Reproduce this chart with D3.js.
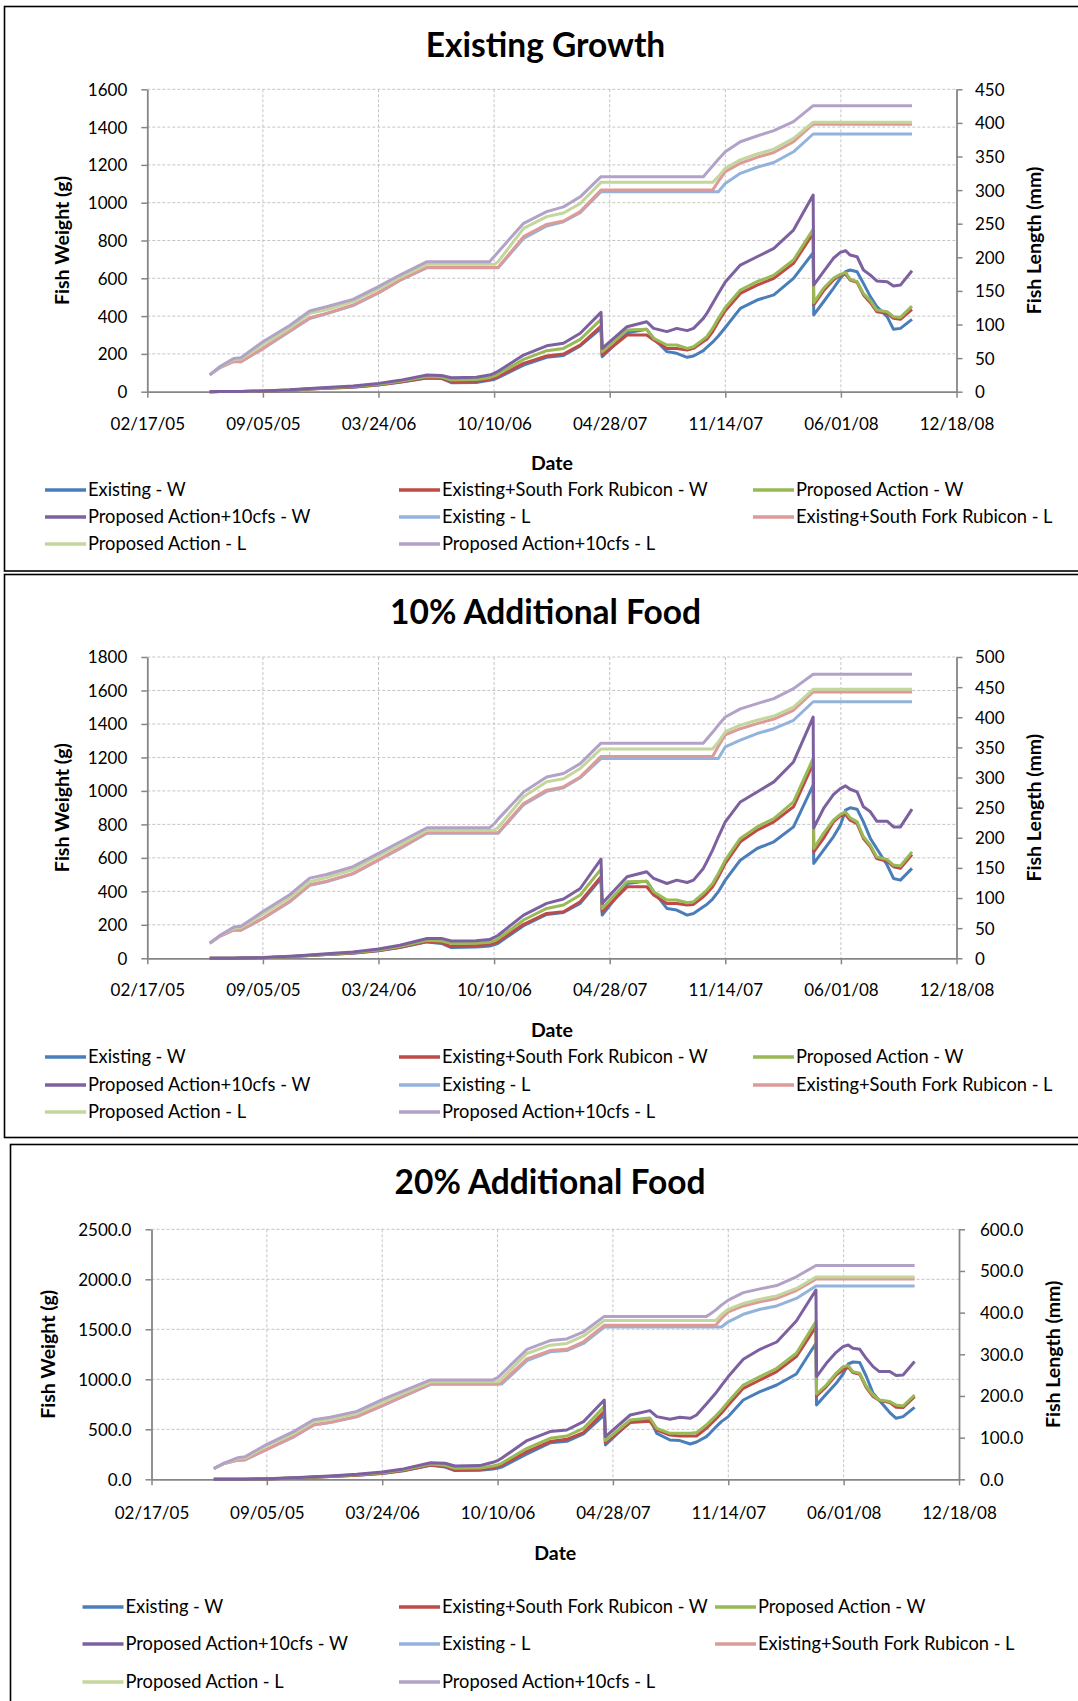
<!DOCTYPE html>
<html><head><meta charset="utf-8">
<script src="https://cdn.jsdelivr.net/npm/d3@7"></script>
<style>
body{margin:0;background:#fff;}
svg{display:block;}
text{font-family:Lato,"Open Sans",sans-serif;fill:#000;}
</style>
</head><body>
<svg id="chart" width="1078" height="1701"></svg>
<script>
// ---------------- DATA ----------------
const tickLabels = ["02/17/05","09/05/05","03/24/06","10/10/06","04/28/07","11/14/07","06/01/08","12/18/08"];
// days after 02/17/05 for every data point
const dayOffsets = [108,126,150,162,200,247,281,310,356,400,437,484,509,526,569,592,601,607,651,691,720,749,785,787,830,864,876,899,916,934,945,962,968,978,988,1000,1026,1055,1084,1118,1152,1153,1170,1187,1199,1208,1216,1228,1239,1251,1262,1280,1291,1303,1323];

const seriesNames = ["Existing - W","Existing+South Fork Rubicon - W","Proposed Action - W","Proposed Action+10cfs - W",
                     "Existing - L","Existing+South Fork Rubicon - L","Proposed Action - L","Proposed Action+10cfs - L"];
const seriesColors = ["#4a7ebb","#be4b48","#98b954","#7d60a0","#93b3dc","#dc9a98","#c3d69b","#b3a2c7"];
const panelTitles = ["Existing Growth","10% Additional Food","20% Additional Food"];

const weightTicks1 = [0,200,400,600,800,1000,1200,1400,1600];
const lengthTicks1 = [0,50,100,150,200,250,300,350,400,450];
const weightTicks2 = [0,200,400,600,800,1000,1200,1400,1600,1800];
const lengthTicks2 = [0,50,100,150,200,250,300,350,400,450,500];
const weightTicks3 = [0,500,1000,1500,2000,2500];
const lengthTicks3 = [0,100,200,300,400,500,600];

// ---- Existing Growth ----
const eg_existing_W = [0,0.5,1,1.5,3,8,14,18,24,36, 50,73,70,48,49,60,66,74,141,182, 192,242,335,185,312,330,282,212,203,182, 189,217,235,262,295,340,441,485,512,600, 735,406,476,547,600,635,644,635,573,503, 450,397,330,335,383];
const eg_sfr_W = [0,0.5,1,1.5,3,8,14,18,25,37, 51,74,71,53,55,65,72,80,150,189, 199,247,347,194,300,300,273,229,229,220, 229,265,277,317,370,428,520,564,600,679, 838,459,534,591,617,621,591,579,512,471, 423,415,388,383,436];
const eg_pa_W = [0,0.5,1,1.5,3.5,9,15,20,27,40, 55,80,78,62,64,74,84,92,171,217, 229,277,383,212,326,330,282,247,247,229, 238,277,291,335,388,445,538,582,617,697, 859,471,547,600,621,630,596,582,520,482, 432,423,397,393,453];
const eg_pa10_W = [0,0.5,1,1.5,4,10,17,22,30,44, 60,88,86,74,76,88,98,108,194,243, 256,309,420,229,344,370,335,318,335,323, 335,388,414,467,520,580,670,714,758,855, 1041,564,635,706,737,746,723,714,644,617, 586,582,559,564,640];
const eg_existing_L = [25,36,45,44.5,64,90,109,116,128,147, 165.5,184.5,184.5,184.5,184.5,184.5,184.5,184.5,228,246.6, 253,266.4,297.5,297.5,297.5,297.5,297.5,297.5,297.5,297.5, 297.5,297.5,297.5,297.5,297.5,310,325,334,341,357, 383.5,383.5,383.5,383.5,383.5,383.5,383.5,383.5,383.5,383.5, 383.5,383.5,383.5,383.5,383.5];
const eg_sfr_L = [25,36,45.6,44.7,64.5,91,110,116.6,129,147.4, 166,185,185,185,185,185,185,185,230.7,249, 254,268,300,300,300,300,300,300,300,300, 300,300,300,300,313,327.5,340,348.8,356,372, 398,398,398,398,398,398,398,398,398,398, 398,398,398,398,398];
const eg_pa_L = [25,37,48,48.5,70.4,95,116.6,122,134,152.8, 170,189.5,189.5,189.5,189.5,189.5,189.5,193.5,243,260.5, 266,280,311.5,311.5,311.5,311.5,311.5,311.5,311.5,311.5, 311.5,311.5,311.5,311.5,320,332.4,345,353.7,361,377, 401,401,401,401,401,401,401,401,401,401, 401,401,401,401,401];
const eg_pa10_L = [25,37.5,49.6,50.6,74.4,99,120,126.5,137.4,156.3, 173.6,193.5,193.5,193.5,193.5,193.5,202,208,250.5,268, 275,290,320,320,320,320,320,320,320,320, 320,320,326,336,346,357,372,380.5,388.5,402, 425.7,425.7,425.7,425.7,425.7,425.7,425.7,425.7,425.7,425.7, 425.7,425.7,425.7,425.7,425.7];

// ---- 10% Additional Food ----
const f10_existing_W = [0,0.5,1,1.5,3.5,10,16,22,30,45, 65,98,89,64,67,73,82,90,195,262, 274,328,477,258,447,461,398,298,288,258, 268,308,322,354,398,467,586,656,696,785, 1034,567,646,726,795,885,899,891,815,716, 656,557,477,467,537];
const f10_sfr_W = [0,0.5,1,1.5,3.5,10,16,22,31,46, 66,100,93,70,76,83,91,100,203,268, 278,338,487,278,427,427,378,328,328,318, 322,368,388,427,487,567,696,765,815,905, 1163,636,716,815,851,859,825,805,716,666, 596,580,547,537,620];
const f10_pa_W = [0,0.5,1,1.5,4,11,18,24,34,50, 71,108,103,89,90,96,106,116,229,298, 318,378,533,298,457,461,398,348,348,332, 338,388,408,447,507,586,716,785,835,934, 1193,656,746,825,859,875,839,815,726,676, 606,590,557,551,636];
const f10_pa10_W = [0,0.5,1,1.5,4.5,12,20,27,38,55, 78,118,119,103,105,112,126,138,258,328, 354,417,592,328,487,517,477,447,467,453, 467,537,577,646,726,815,934,994,1054,1173, 1441,779,895,978,1014,1030,1010,994,905,875, 819,819,785,785,891];
const f10_existing_L = [25,37,47,46.5,66,94,121,127,140,163, 182,207.5,207.5,207.5,207.5,207.5,207.5,207.5,255,277, 283,299.5,331.5,331.5,331.5,331.5,331.5,331.5,331.5,331.5, 331.5,331.5,331.5,331.5,331.5,351,362,373,381,395, 425.7,425.7,425.7,425.7,425.7,425.7,425.7,425.7,425.7,425.7, 425.7,425.7,425.7,425.7,425.7];
const f10_sfr_L = [25,37,47,47,66.5,95,122,128,141,163.3, 183,208.3,208.3,208.3,208.3,208.3,208.3,208.3,257,279, 284.5,301,335,335,335,335,335,335,335,335, 335,335,335,335,352,371,381,389.5,397,411.6, 442,442,442,442,442,442,442,442,442,442, 442,442,442,442,442];
const f10_pa_L = [25,38,50,51,73,101,127,134,147,170, 188,212.7,212.7,212.7,212.7,212.7,212.7,217,268,293, 298,315,347.5,347.5,347.5,347.5,347.5,347.5,347.5,347.5, 347.5,347.5,347.5,347.5,359,376,387,395,402,417, 446.5,446.5,446.5,446.5,446.5,446.5,446.5,446.5,446.5,446.5, 446.5,446.5,446.5,446.5,446.5];
const f10_pa10_L = [25,38,52,53,77.5,106,133,139,152,174, 193,216.6,216.6,216.6,216.6,216.6,224,231,276,301, 306.6,323,357,357,357,357,357,357,357,357, 357,357,364,375,387,400.5,414,422.6,431,447.5, 471.5,471.5,471.5,471.5,471.5,471.5,471.5,471.5,471.5,471.5, 471.5,471.5,471.5,471.5,471.5];

// ---- 20% Additional Food ----
const f20_existing_W = [0,0.5,1,1.5,4,12,20,28,40,59, 86,140,122,87,90,103,112,122,253,365, 380,455,643,343,577,607,460,393,387,353, 373,427,460,520,577,627,793,877,943,1053, 1360,743,853,960,1053,1153,1173,1167,1033,860, 787,667,610,627,720];
const f20_sfr_W = [0,0.5,1,1.5,4,12,21,28,41,60, 88,142,128,93,96,116,130,142,277,377, 400,467,677,367,567,580,493,443,433,433, 433,510,543,600,660,743,910,993,1077,1227, 1527,833,927,1043,1093,1120,1067,1050,920,827, 787,767,720,717,827];
const f20_pa_W = [0,0.5,1,1.5,4.5,14,23,31,45,66, 95,152,140,110,112,133,146,160,310,410, 433,510,727,387,593,613,510,460,460,460, 467,543,577,633,693,777,943,1027,1110,1260, 1577,853,943,1060,1127,1137,1077,1060,933,843, 793,777,743,733,843];
const f20_pa10_W = [0,0.5,1,1.5,5,15,25,34,50,72, 104,165,160,133,137,170,190,210,387,477, 493,577,793,427,643,687,627,600,620,610, 643,753,793,860,937,1027,1200,1300,1373,1583, 1893,1027,1160,1270,1327,1343,1310,1300,1210,1127, 1077,1077,1037,1043,1177];
const f20_existing_L = [25.5,38,46,46.5,71.5,102,130,136,150,176, 199,228,228,228,228,228,228,228.5,285,306, 309,326,365.5,365.5,365.5,365.5,365.5,365.5,365.5,365.5, 365.5,365.5,365.5,365.5,365.5,378,396,408,416,434, 464,464,464,464,464,464,464,464,464,464, 464,464,464,464,464];
const f20_sfr_L = [25.5,38,46,47,72,103,131,137,151,177, 200,229.5,229.5,229.5,229.5,229.5,229.5,232,289,309, 312,330,369.5,369.5,369.5,369.5,369.5,369.5,369.5,369.5, 369.5,369.5,369.5,369.5,386,402,416,426,434,453, 480.5,480.5,480.5,480.5,480.5,480.5,480.5,480.5,480.5,480.5, 480.5,480.5,480.5,480.5,480.5];
const f20_pa_L = [25.5,39,50,51,80,110,138,144,158,185, 207,234,234,234,234,234,234,242,302,322, 326,344,381,381,381,381,381,381,381,381, 381,381,381,381,395,408,422,432,440,458, 485.5,485.5,485.5,485.5,485.5,485.5,485.5,485.5,485.5,485.5, 485.5,485.5,485.5,485.5,485.5];
const f20_pa10_L = [25.5,39,52,54,84,115,143,149,163,191, 212,238.5,238.5,238.5,238.5,238.5,245,253,312,333, 337,354,391,391,391,391,391,391,391,391, 391,391,396,406,418,430,448,457,465,486, 513,513,513,513,513,513,513,513,513,513, 513,513,513,513,513];

// ---------------- LAYOUT (positions / styles only) ----------------
const layout = [
  {frame:[4.5,6.5,1090,564.5], x0:147.3, x1:956.5, y0:89.3, y1:391.7, titleX:545.5, titleY:45.5, xLabDy:32, dateY:463,
   yTitleX:62, y2TitleX:1034, lPad:20, rPad:18.5, legendRows:[490,517,544], legendCols:[45,399,753]},
  {frame:[4.5,574.5,1090,563], x0:147.3, x1:956.5, y0:657, y1:958.3, titleX:545.5, titleY:612.7, xLabDy:32, dateY:1030,
   yTitleX:62, y2TitleX:1034, lPad:20, rPad:18.5, legendRows:[1057,1085,1112], legendCols:[45,399,753]},
  {frame:[10.5,1144.5,1090,600], x0:151.5, x1:959, y0:1229.3, y1:1479.3, titleX:550, titleY:1182, xLabDy:34, dateY:1553,
   yTitleX:48.5, y2TitleX:1053.5, lPad:20, rPad:21, legendRows:[1607,1644,1682], legendCols:[82.5,399,715]}
];

const panels = [
  {title:panelTitles[0], wTicks:weightTicks1, lTicks:lengthTicks1, fmt:d3.format("d"),
   series:[eg_existing_W,eg_sfr_W,eg_pa_W,eg_pa10_W,eg_existing_L,eg_sfr_L,eg_pa_L,eg_pa10_L]},
  {title:panelTitles[1], wTicks:weightTicks2, lTicks:lengthTicks2, fmt:d3.format("d"),
   series:[f10_existing_W,f10_sfr_W,f10_pa_W,f10_pa10_W,f10_existing_L,f10_sfr_L,f10_pa_L,f10_pa10_L]},
  {title:panelTitles[2], wTicks:weightTicks3, lTicks:lengthTicks3, fmt:d3.format(".1f"),
   series:[f20_existing_W,f20_sfr_W,f20_pa_W,f20_pa10_W,f20_existing_L,f20_sfr_L,f20_pa_L,f20_pa10_L]}
];

// ---------------- DRAW ----------------
const parseD = d3.utcParse("%m/%d/%y");
const tickDates = tickLabels.map(parseD);
const dataDates = dayOffsets.map(d => d3.utcDay.offset(tickDates[0], d));
const svg = d3.select("#chart");
const AX = "#868686";

panels.forEach((p, pi) => {
  const L = layout[pi];
  const g = svg.append("g");
  g.append("rect").attr("x",L.frame[0]).attr("y",L.frame[1]).attr("width",L.frame[2]).attr("height",L.frame[3])
    .attr("fill","#fff").attr("stroke","#000").attr("stroke-width",1.6);

  const x = d3.scaleUtc().domain([tickDates[0], tickDates[tickDates.length-1]]).range([L.x0, L.x1]);
  const yW = d3.scaleLinear().domain([0, d3.max(p.wTicks)]).range([L.y1, L.y0]);
  const yL = d3.scaleLinear().domain([0, d3.max(p.lTicks)]).range([L.y1, L.y0]);

  // gridlines
  g.append("g").selectAll("line").data(p.wTicks.slice(1)).join("line")
    .attr("x1",L.x0).attr("x2",L.x1).attr("y1",d=>yW(d)).attr("y2",d=>yW(d))
    .attr("stroke","#c4c4c4").attr("stroke-width",1).attr("stroke-dasharray","3,2");
  g.append("g").selectAll("line").data(tickDates.slice(1,-1)).join("line")
    .attr("x1",d=>x(d)).attr("x2",d=>x(d)).attr("y1",L.y0).attr("y2",L.y1)
    .attr("stroke","#c4c4c4").attr("stroke-width",1).attr("stroke-dasharray","3,2");

  // axes
  const styleAxis = sel => {
    sel.select(".domain").attr("stroke",AX).attr("stroke-width",1.8);
    sel.selectAll(".tick line").attr("stroke",AX).attr("stroke-width",1.5);
    sel.selectAll(".tick text").attr("font-size",17).attr("font-family","Lato").attr("fill","#000");
  };
  const ax = g.append("g").attr("transform",`translate(0,${L.y1})`)
    .call(d3.axisBottom(x).tickValues(tickDates).tickFormat((d,i)=>tickLabels[i]).tickSize(6).tickSizeOuter(0))
    .call(styleAxis);
  ax.selectAll(".tick text").attr("y",L.xLabDy).attr("dy","0.35em");
  const ay = g.append("g").attr("transform",`translate(${L.x0},0)`)
    .call(d3.axisLeft(yW).tickValues(p.wTicks).tickFormat(p.fmt).tickSize(6).tickSizeOuter(0))
    .call(styleAxis);
  ay.selectAll(".tick text").attr("x",-L.lPad).attr("dy","0.35em");
  const ay2 = g.append("g").attr("transform",`translate(${L.x1},0)`)
    .call(d3.axisRight(yL).tickValues(p.lTicks).tickFormat(p.fmt).tickSize(6).tickSizeOuter(0))
    .call(styleAxis);
  ay2.selectAll(".tick text").attr("x",L.rPad).attr("dy","0.35em");

  // lines
  p.series.forEach((vals, si) => {
    const yS = si < 4 ? yW : yL;
    const line = d3.line().x((d,i)=>x(dataDates[i])).y(d=>yS(d));
    g.append("path").datum(vals).attr("d",line).attr("fill","none")
      .attr("stroke",seriesColors[si]).attr("stroke-width",3).attr("stroke-linejoin","round");
  });

  // titles
  g.append("text").attr("x",L.titleX).attr("y",L.titleY).attr("text-anchor","middle").attr("dy","0.35em")
    .attr("font-size",33.5).attr("font-weight","bold").text(p.title);
  g.append("text").attr("x",(L.x0+L.x1)/2).attr("y",L.dateY).attr("text-anchor","middle").attr("dy","0.35em")
    .attr("font-size",19.5).attr("font-weight","bold").text("Date");
  g.append("text").attr("transform",`translate(${L.yTitleX},${(L.y0+L.y1)/2}) rotate(-90)`).attr("text-anchor","middle")
    .attr("dy","0.35em").attr("font-size",19.5).attr("font-weight","bold").text("Fish Weight (g)");
  g.append("text").attr("transform",`translate(${L.y2TitleX},${(L.y0+L.y1)/2}) rotate(-90)`).attr("text-anchor","middle")
    .attr("dy","0.35em").attr("font-size",19.5).attr("font-weight","bold").text("Fish Length (mm)");

  // legend
  seriesNames.forEach((name, si) => {
    const row = Math.floor(si/3), col = si%3;
    const lx = L.legendCols[col], ly = L.legendRows[row];
    g.append("line").attr("x1",lx).attr("x2",lx+41).attr("y1",ly).attr("y2",ly)
      .attr("stroke",seriesColors[si]).attr("stroke-width",3.5);
    g.append("text").attr("x",lx+43).attr("y",ly).attr("dy","0.35em").attr("font-size",18.3).text(name);
  });
});
</script>
</body></html>
